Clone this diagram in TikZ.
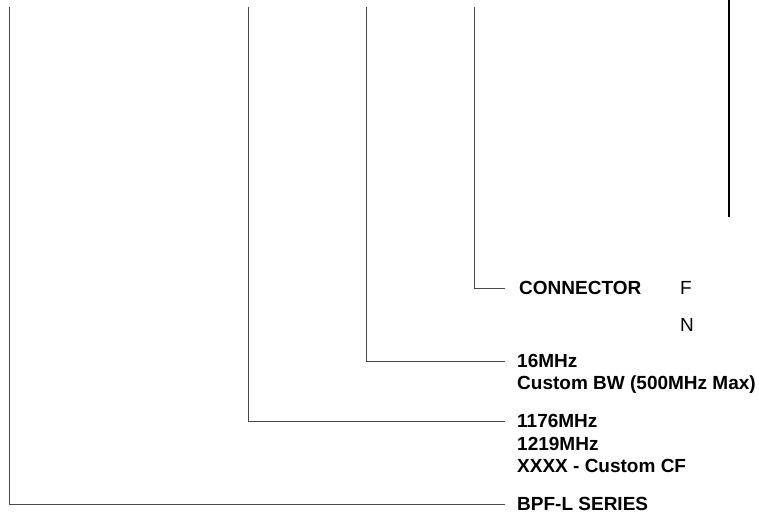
\documentclass[tikz,border=0pt]{standalone}
\usepackage{fontspec}
\setmainfont{Liberation Sans}
\usepackage{tikz}

\begin{document}
\begin{tikzpicture}[x=1bp, y=-1bp,
		lbl/.style={anchor=west, inner xsep=12bp, inner ysep=0pt, text height=13.4bp, text depth=0pt, font=\fontsize{19bp}{22bp}\selectfont\bfseries},
		opt/.style={lbl, font=\fontsize{19bp}{22bp}\selectfont},
		wire/.style={line width=1bp, black!72}]
		\useasboundingbox (0,0) rectangle (759,515);
		\coordinate(s0)at(9,7);
		\coordinate(c0)at(248,7);
		\coordinate(b0)at(366,7);
		\coordinate(k0)at(474,7);
		\coordinate(r0)at(729,0);
		\coordinate(r1)at(729,217);
		\node[lbl](conn)at(507,288){CONNECTOR};
		\node[opt](connF)at(668,288){F};
		\node[opt](connN)at(668,325){N};
		\node[lbl](bw1)at(505,361){16MHz};
		\node[lbl](bw2)at(505,383){Custom BW (500MHz Max)};
		\node[lbl](cf1)at(505,421){1176MHz};
		\node[lbl](cf2)at(505,444){1219MHz};
		\node[lbl](cf3)at(505,466){XXXX - Custom CF};
		\node[lbl](series)at(505,504){BPF-L SERIES};
		\draw[wire](s0)|-(series.west);
		\draw[wire](c0)|-(cf1.west);
		\draw[wire](b0)|-(bw1.west);
		\draw[wire](k0)|-([xshift=-2bp]conn.west);
		\draw[line width=1.2bp](r0)--(r1);
	\end{tikzpicture}
\end{document}
